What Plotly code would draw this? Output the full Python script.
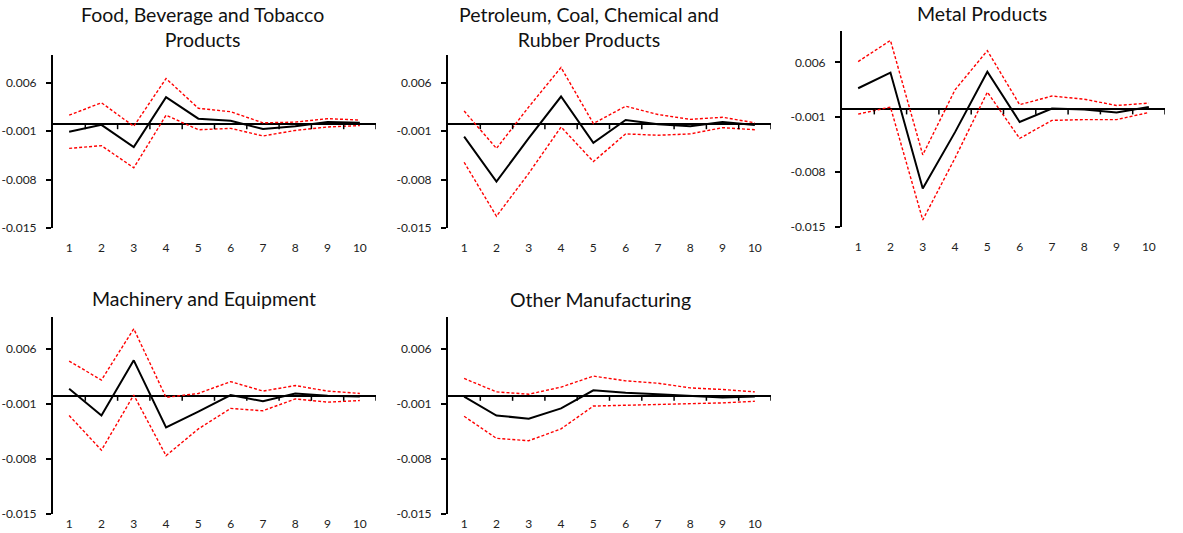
import plotly.graph_objects as go

W, H = 1183, 533

periods = [1, 2, 3, 4, 5, 6, 7, 8, 9, 10]

titles = [
    "Food, Beverage and Tobacco<br>Products",
    "Petroleum, Coal, Chemical and<br>Rubber Products",
    "Metal Products",
    "Machinery and Equipment",
    "Other Manufacturing",
]

food_resp = [-0.0011, -0.0001, -0.0033, 0.0039, 0.0008, 0.0005, -0.0007, -0.0003, 0.0003, 0.0002]
food_upper = [0.0013, 0.0031, -0.0003, 0.0066, 0.0023, 0.0018, 0.0002, 0.0003, 0.0008, 0.0006]
food_lower = [-0.0035, -0.0031, -0.0063, 0.0013, -0.0008, -0.0006, -0.0017, -0.0009, -0.0004, -0.0002]

petro_resp = [-0.0018, -0.0083, -0.0020, 0.0040, -0.0027, 0.0006, 0.0000, -0.0003, 0.0003, -0.0001]
petro_upper = [0.0019, -0.0035, 0.0025, 0.0082, 0.0001, 0.0026, 0.0014, 0.0007, 0.0010, 0.0002]
petro_lower = [-0.0055, -0.0133, -0.0071, -0.0004, -0.0054, -0.0014, -0.0016, -0.0014, -0.0005, -0.0008]

metal_resp = [0.0027, 0.0047, -0.0101, -0.0029, 0.0048, -0.0016, 0.0001, 0.0000, -0.0004, 0.0003]
metal_upper = [0.0061, 0.0088, -0.0058, 0.0025, 0.0075, 0.0006, 0.0017, 0.0013, 0.0005, 0.0008]
metal_lower = [-0.0006, 0.0003, -0.0141, -0.0062, 0.0022, -0.0037, -0.0014, -0.0013, -0.0013, -0.0004]

mach_resp = [0.0009, -0.0025, 0.0045, -0.0040, -0.0020, 0.0001, -0.0007, 0.0003, 0.0000, -0.0001]
mach_upper = [0.0044, 0.0020, 0.0085, -0.0002, 0.0003, 0.0018, 0.0006, 0.0013, 0.0006, 0.0003]
mach_lower = [-0.0025, -0.0069, 0.0001, -0.0076, -0.0042, -0.0016, -0.0019, -0.0004, -0.0008, -0.0006]

other_resp = [-0.0001, -0.0025, -0.0029, -0.0016, 0.0007, 0.0004, 0.0002, 0.0000, -0.0002, -0.0001]
other_upper = [0.0022, 0.0005, 0.0002, 0.0011, 0.0025, 0.0019, 0.0016, 0.0010, 0.0008, 0.0005]
other_lower = [-0.0026, -0.0054, -0.0057, -0.0042, -0.0013, -0.0012, -0.0011, -0.0010, -0.0009, -0.0007]

y_tickvals = [0.006, -0.001, -0.008, -0.015]
y_ticktext = ["0.006", "-0.001", "-0.008", "-0.015"]
y_range = [-0.015, 0.010]

panels = [
    (food_resp, food_upper, food_lower),
    (petro_resp, petro_upper, petro_lower),
    (metal_resp, metal_upper, metal_lower),
    (mach_resp, mach_upper, mach_lower),
    (other_resp, other_upper, other_lower),
]

# layout geometry in page pixels: x-left, x-right, y-top, y-bottom
geom = [
    (53, 376, 55, 228),
    (448, 771, 55, 228),
    (842, 1165, 31, 227),
    (53, 376, 317, 514),
    (448, 771, 317, 514),
]
title_pos = [(202, 27), (589, 27), (982, 13), (204, 298), (601, 299)]
xlab_standoff = [11, 11, 11, 1, 1]

FONT = "Lato, 'Open Sans', sans-serif"
fig = go.Figure()
layout = dict(
    template="none",
    width=W, height=H, margin=dict(l=0, r=0, t=0, b=0, autoexpand=False),
    paper_bgcolor="white", plot_bgcolor="white", showlegend=False,
    font=dict(family=FONT, color="#222222"),
)
shapes = []
annotations = []

for i, ((resp, up, lo), (xl, xr, yt, yb), ttl, (tx, ty)) in enumerate(zip(panels, geom, titles, title_pos)):
    n = i + 1
    xa = "x" if n == 1 else f"x{n}"
    ya = "y" if n == 1 else f"y{n}"
    for series, color, width, dash in [
        (up, "#FF0000", 1.4, "3px,2px"),
        (lo, "#FF0000", 1.4, "3px,2px"),
        (resp, "black", 2, "solid"),
    ]:
        fig.add_trace(go.Scatter(
            x=periods, y=series, mode="lines", xaxis=xa, yaxis=ya,
            line=dict(color=color, width=width, dash=dash), hoverinfo="skip",
        ))
    layout["xaxis" if n == 1 else f"xaxis{n}"] = dict(
        domain=[xl / W, xr / W], anchor=ya, range=[0.5, 10.5], automargin=False,
        tickvals=periods, ticktext=[str(p) for p in periods],
        showline=False, ticks="", showgrid=False, zeroline=False,
        tickfont=dict(size=12, color="#222222"), ticklabelstandoff=xlab_standoff[i],
        fixedrange=True,
    )
    layout["yaxis" if n == 1 else f"yaxis{n}"] = dict(
        domain=[1 - yb / H, 1 - yt / H], anchor=xa, range=y_range, automargin=False,
        tickvals=y_tickvals, ticktext=y_ticktext,
        showline=True, linecolor="black", linewidth=2,
        ticks="outside", ticklen=5, tickwidth=1.5, tickcolor="black",
        showgrid=False, zeroline=True, zerolinecolor="black", zerolinewidth=2,
        tickfont=dict(size=12, color="#222222"), ticklabelstandoff=7,
        fixedrange=True,
    )
    # small tick marks on the zero axis between categories (5 px long, downward)
    tick_len = 5 * (y_range[1] - y_range[0]) / (yb - yt)
    for k in range(len(periods)):
        shapes.append(dict(
            type="line", xref=xa, yref=ya, x0=periods[k] + 0.5, x1=periods[k] + 0.5,
            y0=0, y1=-tick_len, line=dict(color="black", width=1.5), layer="above",
        ))
    annotations.append(dict(
        text=ttl, xref="paper", yref="paper", x=tx / W, y=1 - ty / H,
        xanchor="center", yanchor="middle", showarrow=False,
        font=dict(size=19.5, color="#111111", family=FONT),
    ))

layout["shapes"] = shapes
layout["annotations"] = annotations
fig.update_layout(**layout)
fig.write_html(
    "out.html",
    config={"displayModeBar": False},
    post_script="document.body.style.margin='0px';",
)
